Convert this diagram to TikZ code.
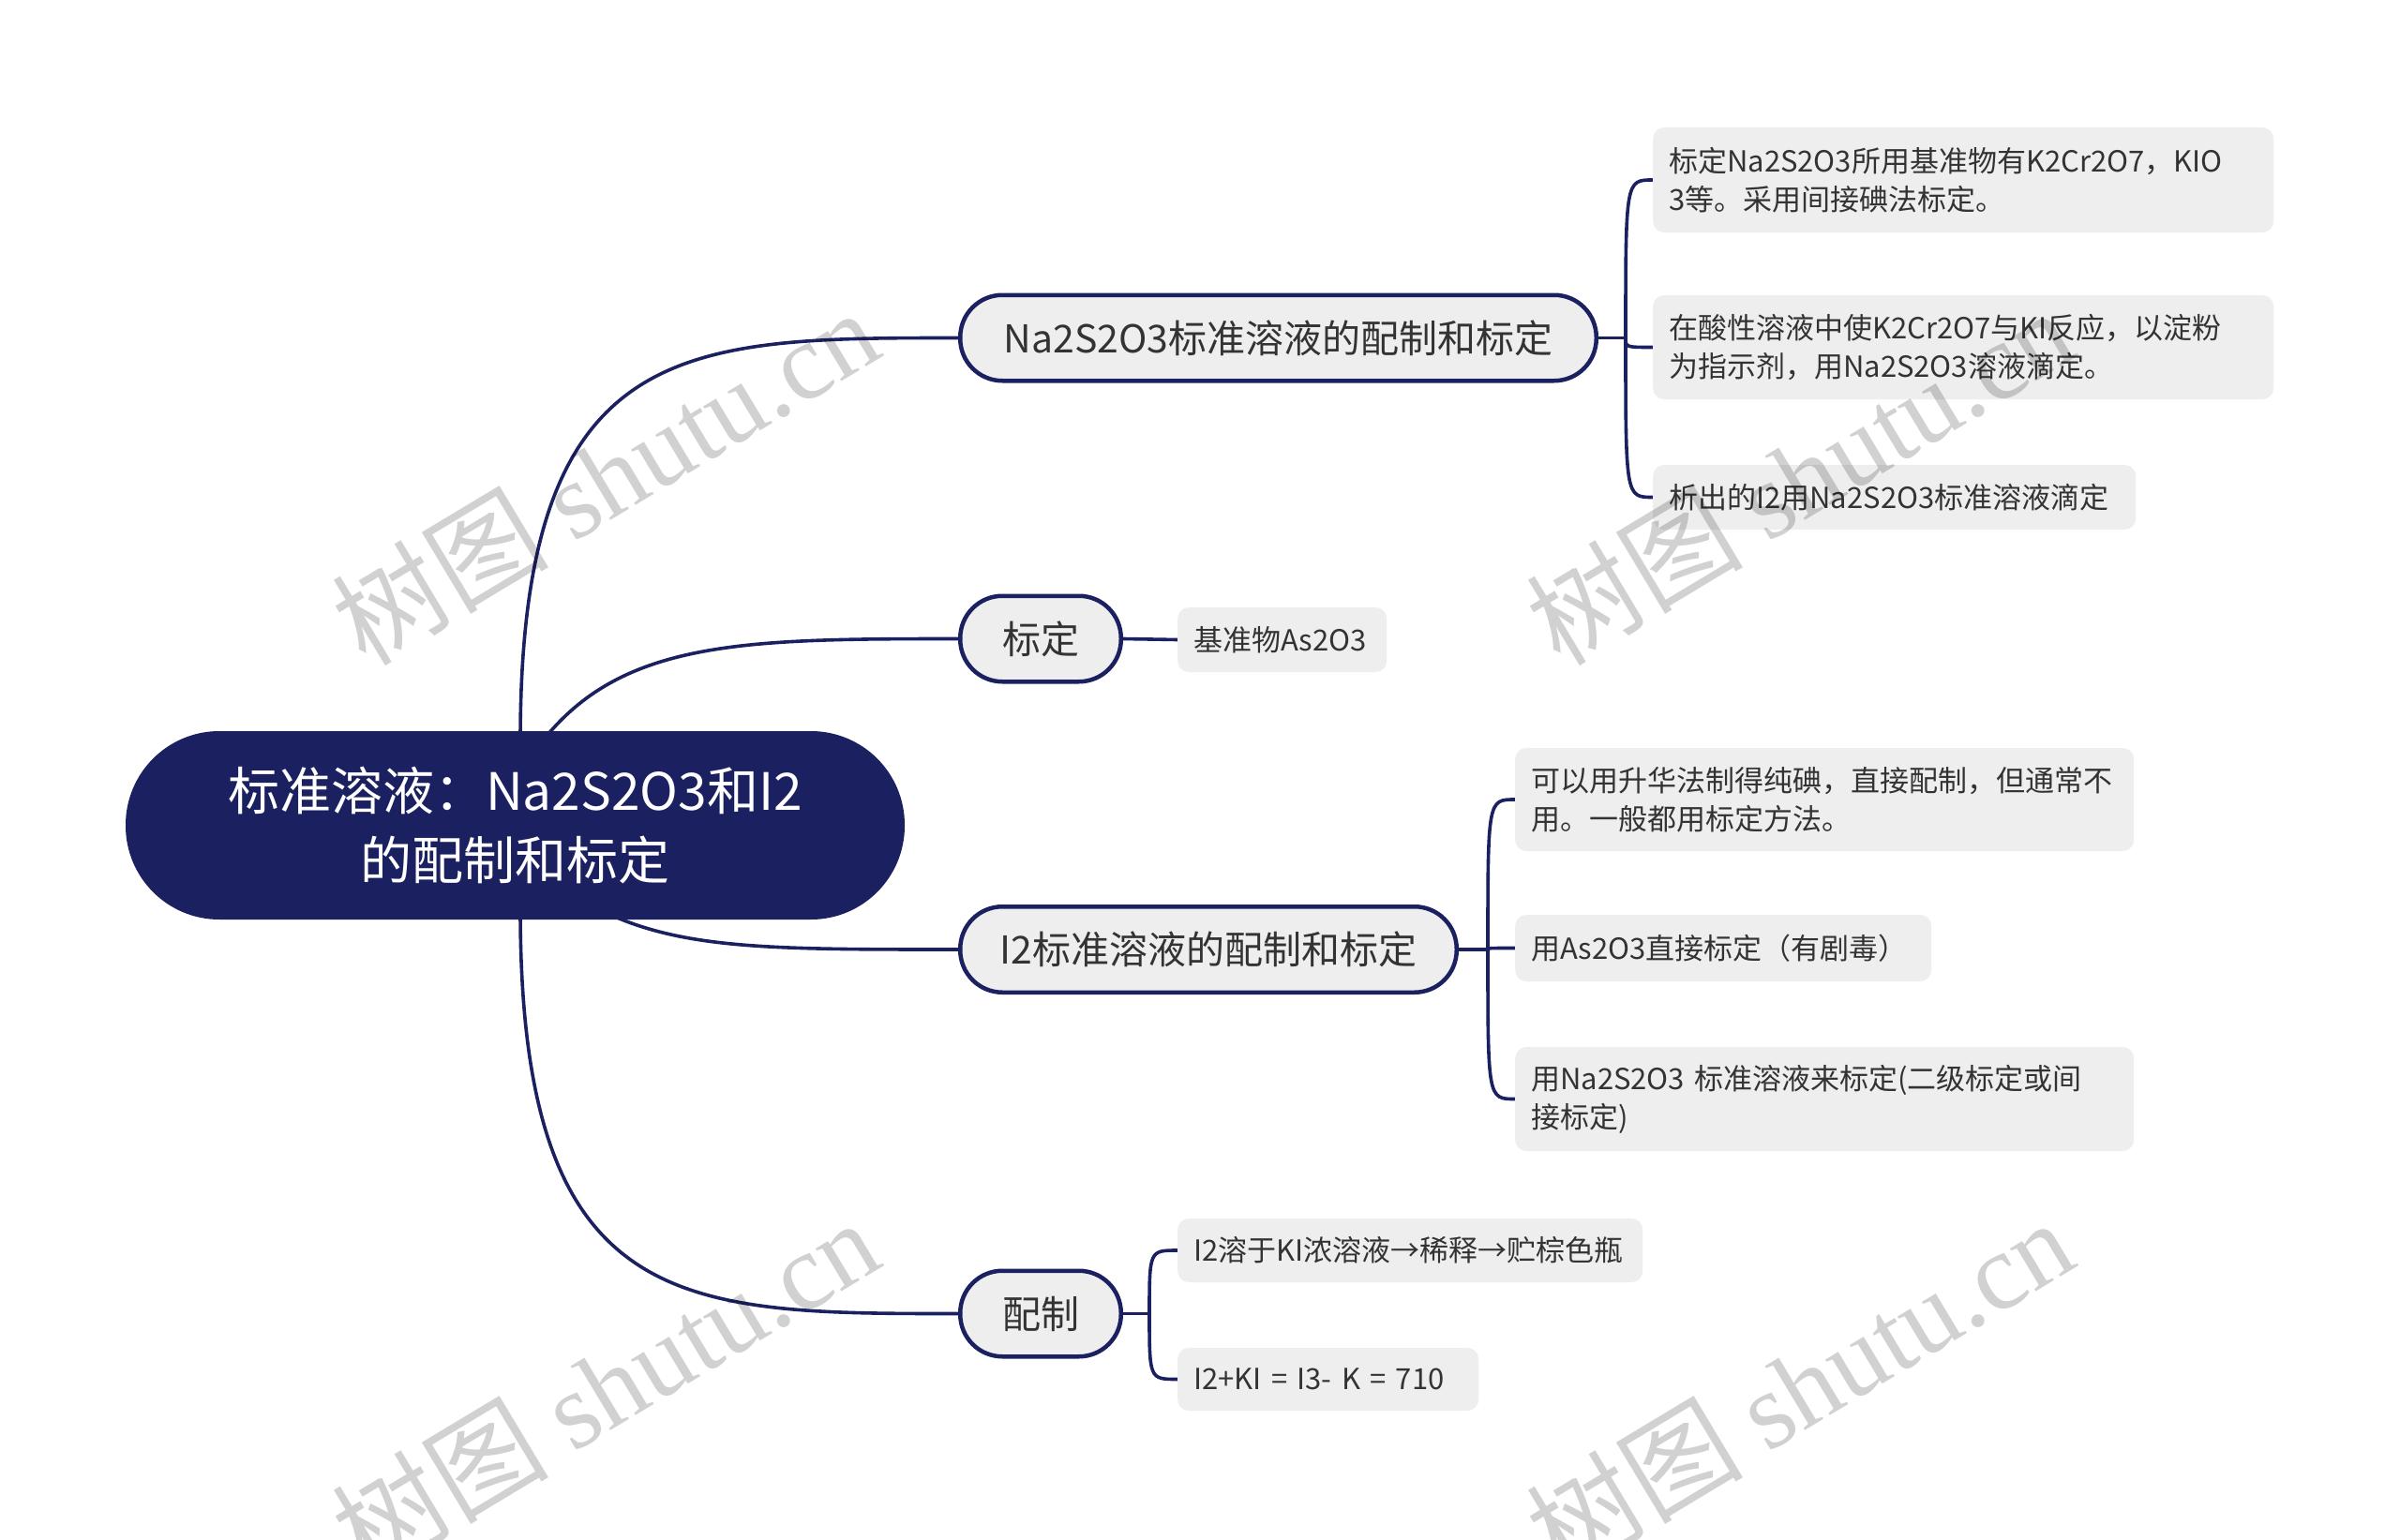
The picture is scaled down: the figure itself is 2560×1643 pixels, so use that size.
\documentclass[tikz,border=0pt]{standalone}
\usepackage{fontspec}
\setmainfont{Noto Sans CJK SC}
\newfontfamily\wmcjk{Noto Sans CJK SC}
\newfontfamily\wmlat{Liberation Serif}
\definecolor{mmnavy}{HTML}{1B2060}
\definecolor{boxgray}{HTML}{EEEEEE}
\definecolor{txt}{HTML}{333333}
\pgfdeclarelayer{back}
\pgfdeclarelayer{lines}
\pgfdeclarelayer{front}
\pgfsetlayers{back,lines,main,front}
\begin{document}
\begin{tikzpicture}[x=1pt,y=-1pt,
  conn/.style={draw=mmnavy, line width=3.6pt, line cap=round},
  rootbox/.style={fill=mmnavy, rounded corners=100pt, minimum width=831pt, minimum height=201pt, inner sep=0pt, text=white, align=center, font=\fontsize{55}{74}\selectfont},
  topic/.style={draw=mmnavy, line width=4.5pt, fill=boxgray, rounded corners=45pt, minimum height=91.5pt, inner sep=0pt, text=txt, font=\fontsize{41}{50}\selectfont},
  leaf/.style={fill=boxgray, rounded corners=12pt, align=left, inner xsep=17pt, inner ysep=0pt, anchor=west, text=txt, font=\fontsize{31}{41}\selectfont},
  wm/.style={text=black, text opacity=0.18, rotate=31, inner sep=0pt, font=\fontsize{116}{116}\selectfont}]

\begin{pgfonlayer}{back}
\fill[white] (0,0) rectangle (2560,1643);
\end{pgfonlayer}
\useasboundingbox (0,0) rectangle (2560,1643);

% root and main topics
\node[rootbox] (root) at (549.5,880.5) {标准溶液：Na2S2O3和I2\\的配制和标定};
\node[topic, minimum width=678.5pt] (t1) at (1363.5,360.5) {Na2S2O3标准溶液的配制和标定};
\node[topic, minimum width=171.5pt] (t2) at (1110,681.5) {标定};
\node[topic, minimum width=529.5pt] (t3) at (1289,1013) {I2标准溶液的配制和标定};
\node[topic, minimum width=171.5pt] (t4) at (1110,1401.5) {配制};

% leaves
\node[leaf, text width=628pt, minimum height=112pt] (a1) at (1763,192) {标定Na2S2O3所用基准物有K2Cr2O7，KIO\\3等。采用间接碘法标定。};
\node[leaf, text width=628pt, minimum height=111pt] (a2) at (1763,370.5) {在酸性溶液中使K2Cr2O7与KI反应，以淀粉\\为指示剂，用Na2S2O3溶液滴定。};
\node[leaf, text width=481pt, minimum height=69pt] (a3) at (1763,530.5) {析出的I2用Na2S2O3标准溶液滴定};
\node[leaf, text width=189pt, minimum height=69pt] (b1) at (1256,682.5) {基准物As2O3};
\node[leaf, text width=626pt, minimum height=110pt] (c1) at (1616,853) {可以用升华法制得纯碘，直接配制，但通常不\\用。一般都用标定方法。};
\node[leaf, text width=410pt, minimum height=71pt] (c2) at (1616,1011.5) {用As2O3直接标定（有剧毒）};
\node[leaf, text width=626pt, minimum height=111pt] (c3) at (1616,1172.5) {用Na2S2O3 标准溶液来标定(二级标定或间\\接标定)};
\node[leaf, text width=462pt, minimum height=68pt] (d1) at (1256,1334) {I2溶于KI浓溶液→稀释→贮棕色瓶};
\node[leaf, text width=287pt, minimum height=67pt] (d2) at (1256,1471.5) {I2+KI = I3- K = 710};

\begin{pgfonlayer}{lines}
% root to topics
\coordinate (r1) at (555,790);
\coordinate (r2) at (568,805);
\coordinate (r3) at (612,955);
\coordinate (r4) at (555,971);
\draw[conn] (r1) .. controls (555,361) and (727,360.5) .. (t1.west);
\draw[conn] (r2) .. controls (653,683) and (784,681.5) .. (t2.west);
\draw[conn] (r3) .. controls (705,1013) and (800,1013) .. (t3.west);
\draw[conn] (r4) .. controls (555,1401.5) and (727,1401.5) .. (t4.west);
% topic 1 bracket
\coordinate (k1) at (1734,360.5);
\draw[conn] (t1.east) -- (k1);
\foreach \l in {a1,a2,a3} \draw[conn] (k1) .. controls (k1 |- \l.west) .. (\l.west);
% topic 2
\draw[conn] (t2.east) -- (b1.west);
% topic 3 bracket
\coordinate (k3) at (1587,1013);
\draw[conn] (t3.east) -- (k3);
\foreach \l in {c1,c2,c3} \draw[conn] (k3) .. controls (k3 |- \l.west) .. (\l.west);
% topic 4 bracket
\coordinate (k4) at (1226,1401.5);
\draw[conn] (t4.east) -- (k4);
\foreach \l in {d1,d2} \draw[conn] (k4) .. controls (k4 |- \l.west) .. (\l.west);
\end{pgfonlayer}

\begin{pgfonlayer}{front}
\node[wm] (w1) at (645,508) {{\wmcjk 树图} {\wmlat shutu.cn}};
\node[wm] (w2) at (1919,508) {{\wmcjk 树图} {\wmlat shutu.cn}};
\node[wm] (w3) at (645,1479) {{\wmcjk 树图} {\wmlat shutu.cn}};
\node[wm] (w4) at (1919,1479) {{\wmcjk 树图} {\wmlat shutu.cn}};
\end{pgfonlayer}
\end{tikzpicture}
\end{document}
